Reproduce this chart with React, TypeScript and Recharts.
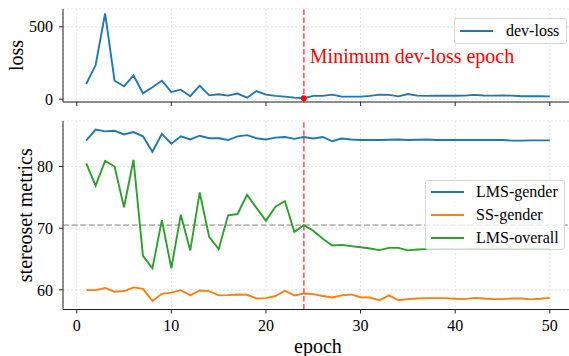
import {
  LineChart,
  Line,
  XAxis,
  YAxis,
  CartesianGrid,
  ReferenceLine,
  ReferenceDot,
} from "recharts";

const epochs = [
  1, 2, 3, 4, 5, 6, 7, 8, 9, 10, 11, 12, 13, 14, 15, 16, 17, 18, 19, 20, 21, 22, 23, 24, 25,
  26, 27, 28, 29, 30, 31, 32, 33, 34, 35, 36, 37, 38, 39, 40, 41, 42, 43, 44, 45, 46, 47, 48, 49, 50,
];

const devLoss = [
  105, 236, 592, 128, 89, 165, 41, 83, 128, 50, 66, 21, 94, 27, 34, 25, 39, 11, 57, 32, 23, 18, 11, 7, 23,
  23, 32, 18, 18, 18, 23, 32, 30, 20, 36, 25, 23, 24, 24, 24, 25, 30, 26, 25, 26, 25, 21, 21, 21, 20,
];

const lmsGender = [
  84.2, 86.0, 85.7, 85.8, 85.2, 85.6, 84.9, 82.4, 85.3, 83.7, 84.9, 84.4, 85.0, 84.6, 84.6, 84.3, 84.9,
  85.1, 84.6, 84.4, 84.7, 84.8, 84.5, 84.8, 84.55, 84.8, 84.1, 84.55, 84.4, 84.3, 84.3, 84.3, 84.35, 84.4,
  84.3, 84.35, 84.4, 84.3, 84.3, 84.3, 84.3, 84.3, 84.3, 84.3, 84.3, 84.2, 84.2, 84.25, 84.25, 84.25,
];

const ssGender = [
  59.95, 59.95, 60.3, 59.7, 59.8, 60.4, 60.15, 58.2, 59.35, 59.55, 59.95, 59.1, 59.9, 59.8, 59.1, 59.15,
  59.25, 59.2, 58.6, 58.65, 59.0, 59.85, 59.1, 59.4, 59.3, 59.0, 58.75, 59.1, 59.25, 58.8, 58.75, 58.3,
  59.1, 58.3, 58.5, 58.6, 58.65, 58.65, 58.65, 58.55, 58.5, 58.7, 58.6, 58.5, 58.5, 58.6, 58.6, 58.45,
  58.55, 58.7,
];

const lmsOverall = [
  80.5, 76.9, 80.9, 80.0, 73.4, 81.1, 65.5, 63.5, 71.3, 63.5, 72.2, 66.4, 75.8, 68.6, 66.6, 72.1, 72.3,
  75.4, 73.3, 71.2, 73.5, 74.4, 69.4, 70.5, 69.6, 68.3, 67.2, 67.3, 67.1, 66.9, 66.7, 66.45, 66.8, 66.8,
  66.4, 66.55, 66.6, 66.6, 66.65, 66.6, 66.6, 66.65, 66.6, 66.6, 66.65, 66.6, 66.6, 66.65, 66.6, 66.6,
];

const epochTicks = [0, 10, 20, 30, 40, 50];
const lossTicks = [0, 500];
const metricTicks = [60, 70, 80];
const minEpoch = 24;

const FONT = "'Liberation Serif', 'Times New Roman', serif";
const BLUE = "#1f77b4";
const ORANGE = "#ff7f0e";
const GREEN = "#2ca02c";
const AXIS = "#222";
const LW = 1.9;

const rows = epochs.map((e, i) => ({
  epoch: e,
  loss: devLoss[i],
  lmsGender: lmsGender[i],
  ssGender: ssGender[i],
  lmsOverall: lmsOverall[i],
}));

const xDomain: [number, number] = [-1.45, 52.45];
const tickStyle = { fontSize: 16, fill: "#000", fontFamily: FONT };

function yLabel(text: string, x: number) {
  return (props: any) => {
    const vb = props.viewBox;
    const cy = vb.y + vb.height / 2;
    return (
      <text
        x={x}
        y={cy}
        transform={`rotate(-90 ${x} ${cy})`}
        textAnchor="middle"
        fontSize={20}
        fontFamily={FONT}
        fill="#000"
      >
        {text}
      </text>
    );
  };
}

function LegendBox({
  left,
  top,
  width,
  height,
  items,
  textLeft,
}: {
  left: number;
  top: number;
  width: number;
  height: number;
  textLeft: number;
  items: { name: string; color: string; y: number }[];
}) {
  return (
    <div
      style={{
        position: "absolute",
        left,
        top,
        width,
        height,
        boxSizing: "border-box",
        border: "1px solid #d3d3d3",
        borderRadius: 3,
        background: "rgba(255,255,255,0.8)",
        fontFamily: FONT,
        fontSize: 16,
      }}
    >
      {items.map((it) => (
        <div key={it.name}>
          <div
            style={{
              position: "absolute",
              left: 5,
              top: it.y - 1,
              width: 33,
              height: 2,
              background: it.color,
            }}
          />
          <div
            style={{
              position: "absolute",
              left: textLeft,
              top: it.y - 10,
              lineHeight: "20px",
              whiteSpace: "nowrap",
              color: "#000",
            }}
          >
            {it.name}
          </div>
        </div>
      ))}
    </div>
  );
}

export default function App() {
  return (
    <div
      style={{
        position: "absolute",
        left: 0,
        top: 0,
        width: 569,
        height: 356,
        overflow: "hidden",
        background: "#fff",
      }}
    >
      <div style={{ position: "absolute", left: 0, top: 0 }}>
        <LineChart
          width={580}
          height={118}
          data={rows}
          margin={{ top: 9, right: 7, bottom: 0, left: 0 }}
          style={{ fontFamily: FONT }}
        >
          <CartesianGrid stroke="#d9d9d9" strokeDasharray="2 2" strokeWidth={0.8} />
          <XAxis
            dataKey="epoch"
            type="number"
            domain={xDomain}
            ticks={epochTicks}
            height={16}
            tickSize={4}
            tickFormatter={() => ""}
            stroke={AXIS}
            allowDataOverflow
          />
          <XAxis
            xAxisId="top"
            orientation="top"
            dataKey="epoch"
            type="number"
            domain={xDomain}
            height={0}
            tick={false}
            tickLine={false}
            stroke={AXIS}
            allowDataOverflow
          />
          <YAxis
            type="number"
            domain={[-19, 623]}
            ticks={lossTicks}
            width={63}
            tickSize={4}
            tickMargin={6}
            tick={tickStyle}
            stroke={AXIS}
            allowDataOverflow
            label={yLabel("loss", 23)}
          />
          <ReferenceLine
            x={minEpoch}
            stroke="red"
            strokeOpacity={0.6}
            strokeWidth={1.8}
            strokeDasharray="5.5 2.4"
            label={(props: any) => (
              <text
                x={props.viewBox.x + 6}
                y={63.3}
                fontSize={20}
                fontFamily={FONT}
                fill="red"
              >
                Minimum dev-loss epoch
              </text>
            )}
          />
          <Line
            dataKey="loss"
            stroke={BLUE}
            strokeWidth={LW}
            dot={false}
            isAnimationActive={false}
          />
          <ReferenceDot x={minEpoch} y={devLoss[minEpoch - 1]} r={3} fill="red" stroke="none" />
        </LineChart>
      </div>

      <div style={{ position: "absolute", left: 0, top: 110 }}>
        <LineChart
          width={580}
          height={246}
          data={rows}
          margin={{ top: 11, right: 7, bottom: 0, left: 0 }}
          style={{ fontFamily: FONT }}
        >
          <CartesianGrid stroke="#d9d9d9" strokeDasharray="2 2" strokeWidth={0.8} />
          <XAxis
            dataKey="epoch"
            type="number"
            domain={xDomain}
            ticks={epochTicks}
            height={46.5}
            tickSize={4}
            tickMargin={6}
            tick={tickStyle}
            stroke={AXIS}
            allowDataOverflow
            label={(props: any) => (
              <text
                x={props.viewBox.x + props.viewBox.width / 2}
                y={243}
                textAnchor="middle"
                fontSize={20}
                fontFamily={FONT}
                fill="#000"
              >
                epoch
              </text>
            )}
          />
          <XAxis
            xAxisId="top"
            orientation="top"
            dataKey="epoch"
            type="number"
            domain={xDomain}
            height={0}
            tick={false}
            tickLine={false}
            stroke={AXIS}
            allowDataOverflow
          />
          <YAxis
            type="number"
            domain={[56.81, 87.39]}
            ticks={metricTicks}
            width={63}
            tickSize={4}
            tickMargin={6}
            tick={tickStyle}
            stroke={AXIS}
            allowDataOverflow
            label={yLabel("stereoset metrics", 32)}
          />
          <ReferenceLine
            y={lmsOverall[minEpoch - 1]}
            stroke="#a8a8a8"
            strokeOpacity={0.85}
            strokeWidth={1.8}
            strokeDasharray="6 2.6"
          />
          <ReferenceLine
            x={minEpoch}
            stroke="red"
            strokeOpacity={0.6}
            strokeWidth={1.8}
            strokeDasharray="5.5 2.4"
          />
          <Line
            dataKey="lmsGender"
            stroke={BLUE}
            strokeWidth={LW}
            dot={false}
            isAnimationActive={false}
          />
          <Line
            dataKey="ssGender"
            stroke={ORANGE}
            strokeWidth={LW}
            dot={false}
            isAnimationActive={false}
          />
          <Line
            dataKey="lmsOverall"
            stroke={GREEN}
            strokeWidth={LW}
            dot={false}
            isAnimationActive={false}
          />
        </LineChart>
      </div>

      <LegendBox
        left={454}
        top={18}
        width={113}
        height={26}
        textLeft={51}
        items={[{ name: "dev-loss", color: BLUE, y: 11.5 }]}
      />
      <LegendBox
        left={425}
        top={180}
        width={140}
        height={70}
        textLeft={50}
        items={[
          { name: "LMS-gender", color: BLUE, y: 11 },
          { name: "SS-gender", color: ORANGE, y: 33.5 },
          { name: "LMS-overall", color: GREEN, y: 56.5 },
        ]}
      />
    </div>
  );
}
